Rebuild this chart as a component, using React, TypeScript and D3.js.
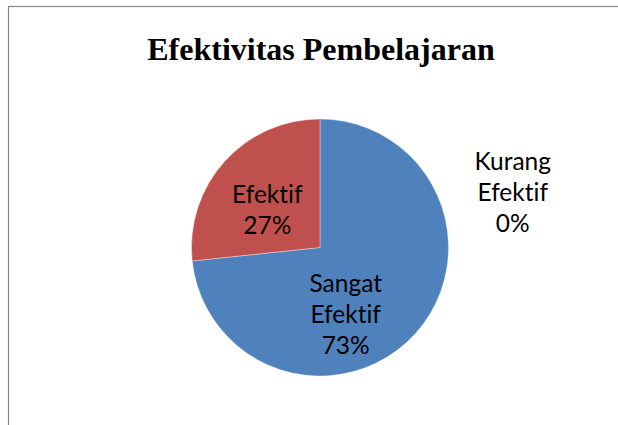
import React from "react";
import * as d3 from "d3";

const categories = ["Sangat Efektif", "Efektif", "Kurang Efektif"];
const values = [22, 8, 0];
const colors = ["#4F81BD", "#C0504D", "#9BBB59"];
const labelLines = [["Sangat", "Efektif"], ["Efektif"], ["Kurang", "Efektif"]];
const title = "Efektivitas Pembelajaran";

// label anchor offsets (fractions of radius) relative to pie centre
const labelOffsets = [
  [0.2, 0.52],
  [-0.41, -0.29],
  [1.5, -0.43],
];

const W = 618;
const H = 425;

export default function App() {
  const cx = 320;
  const cy = 247.5;
  const r = 128.5;
  const pie = d3.pie<number>().sort(null).value((d) => d);
  const arcs = pie(values);
  const arc = d3.arc<d3.PieArcDatum<number>>().innerRadius(0).outerRadius(r);
  const total = d3.sum(values);
  const fmt = (v: number) => `${Math.round((v / total) * 100)}%`;
  const lh = 31;
  return (
    <svg
      width={W}
      height={H}
      style={{ position: "absolute", left: 0, top: 0, display: "block" }}
    >
      <rect x={0} y={0} width={W} height={H} fill="#fff" />
      <rect
        x={8.5}
        y={6.5}
        width={W + 20}
        height={H + 20}
        fill="none"
        stroke="#868686"
        strokeWidth={1.2}
      />
      <text
        x={321}
        y={60}
        textAnchor="middle"
        fontFamily="'Liberation Serif', 'Times New Roman', serif"
        fontWeight="bold"
        fontSize={32}
        fill="#000"
      >
        {title}
      </text>
      <g transform={`translate(${cx},${cy})`}>
        {arcs.map((a, i) =>
          a.value > 0 ? (
            <path
              key={categories[i]}
              d={arc(a) || ""}
              fill={colors[i]}
              stroke="#ffffff"
              strokeWidth={0.6}
              strokeOpacity={0.6}
            />
          ) : null
        )}
        {arcs.map((a, i) => {
          const lines = [...labelLines[i], fmt(a.value)];
          const [ox, oy] = labelOffsets[i];
          const x = ox * r;
          const y = oy * r - ((lines.length - 1) * lh) / 2;
          return (
            <text
              key={"l" + i}
              textAnchor="middle"
              fontFamily="Lato, 'Noto Sans', sans-serif"
              fontSize={24.5}
              fill="#000"
              style={{ fontVariantLigatures: "none", fontFeatureSettings: "'liga' 0" }}
            >
              {lines.map((t, j) => (
                <tspan key={j} x={x} y={y + j * lh} dy="0.35em">
                  {t}
                </tspan>
              ))}
            </text>
          );
        })}
      </g>
    </svg>
  );
}
